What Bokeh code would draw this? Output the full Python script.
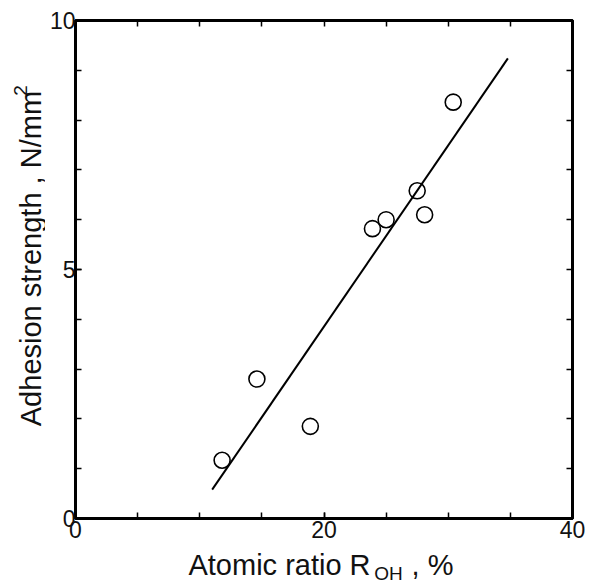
from bokeh.plotting import figure
from bokeh.models import Range1d, LinearAxis, FixedTicker
from bokeh.layouts import row, column
from bokeh.core.properties import value
from bokeh.embed import file_html
from bokeh.resources import INLINE
import math

# Data
ratio_oh = [11.8, 14.6, 18.9, 23.9, 25.0, 27.5, 28.1, 30.4]
adhesion = [1.17, 2.8, 1.85, 5.82, 6.0, 6.58, 6.1, 8.36]
fit_x = [11.0, 34.8]
fit_y = [0.58, 9.24]

x_major = [0, 20, 40]
x_minor = [0, 5, 10, 15, 20, 25, 30, 35, 40]
y_major = [0, 5, 10]
y_minor = [0, 1, 2, 3, 4, 5, 6, 7, 8, 9, 10]

x_title = ["Atomic ratio R", "OH", ", %"]
y_title = ["Adhesion strength , N/mm", "2"]

FONT = "Liberation Sans"
TXT = "#111111"

YLAB_W = 45
MAIN_W = 547
MAIN_H = 548
XLAB_H = 36
TOTAL_W = YLAB_W + MAIN_W
H = MAIN_H + XLAB_H

# ---------------- main plot ----------------
p = figure(width=MAIN_W, height=MAIN_H, output_backend="svg", toolbar_location=None,
           x_range=Range1d(0, 40), y_range=Range1d(0, 10),
           x_axis_location=None, y_axis_location=None,
           min_border_left=30, min_border_right=20,
           min_border_top=20, min_border_bottom=30)
p.grid.visible = False
p.outline_line_color = "black"
p.outline_line_width = 3
p.border_fill_color = "white"


def style_axis(ax, standoff):
    ax.axis_line_color = "black"
    ax.axis_line_width = 3
    ax.major_tick_in = 6
    ax.major_tick_out = 0
    ax.minor_tick_in = 6
    ax.minor_tick_out = 0
    ax.major_tick_line_width = 1.5
    ax.minor_tick_line_width = 1.5
    ax.major_tick_line_color = "black"
    ax.minor_tick_line_color = "black"
    ax.major_label_text_font = FONT
    ax.major_label_text_font_size = "23px"
    ax.major_label_text_color = TXT
    ax.major_label_standoff = standoff


bx = LinearAxis(ticker=FixedTicker(ticks=x_major, minor_ticks=x_minor))
style_axis(bx, 2)
p.add_layout(bx, "below")
tx = LinearAxis(ticker=FixedTicker(ticks=[], minor_ticks=x_minor))
style_axis(tx, 0)
p.add_layout(tx, "above")
ly = LinearAxis(ticker=FixedTicker(ticks=y_major, minor_ticks=y_minor))
style_axis(ly, 0)
p.add_layout(ly, "left")
ry = LinearAxis(ticker=FixedTicker(ticks=[], minor_ticks=y_minor))
style_axis(ry, 0)
p.add_layout(ry, "right")

p.line(fit_x, fit_y, line_color="black", line_width=2)
p.scatter(ratio_oh, adhesion, marker="circle", size=16, fill_color=None,
          line_color="black", line_width=1.6)


def blank_fig(w, h):
    f = figure(width=w, height=h, output_backend="svg", toolbar_location=None,
               x_range=Range1d(0, w), y_range=Range1d(0, h),
               x_axis_location=None, y_axis_location=None,
               min_border=0, min_border_left=0, min_border_right=0,
               min_border_top=0, min_border_bottom=0)
    f.grid.visible = False
    f.outline_line_color = None
    f.border_fill_color = "white"
    return f


# ---------------- y title (pixel coordinates, centre anchored) ----------------
yl = blank_fig(YLAB_W, MAIN_H)
yl.text(x=[30], y=[MAIN_H - 262], text=[y_title[0]], angle=math.pi / 2,
        text_font=value(FONT), text_font_size=value("29px"), text_color=TXT,
        text_align="center", text_baseline="middle")
yl.text(x=[20], y=[MAIN_H - 77], text=[y_title[1]], angle=math.pi / 2,
        text_font=value(FONT), text_font_size=value("19px"), text_color=TXT,
        text_align="center", text_baseline="middle")

# ---------------- x title (pixel coordinates, centre anchored) ----------------
xl = blank_fig(TOTAL_W, XLAB_H)
xl.text(x=[279], y=[H - 564], text=[x_title[0]],
        text_font=value(FONT), text_font_size=value("29px"), text_color=TXT,
        text_align="center", text_baseline="middle")
xl.text(x=[388], y=[H - 573], text=[x_title[1]],
        text_font=value(FONT), text_font_size=value("19px"), text_color=TXT,
        text_align="center", text_baseline="middle")
xl.text(x=[432], y=[H - 564], text=[x_title[2]],
        text_font=value(FONT), text_font_size=value("29px"), text_color=TXT,
        text_align="center", text_baseline="middle")

layout = column(row(yl, p), xl)
open("out.html", "w").write(file_html(layout, INLINE))
